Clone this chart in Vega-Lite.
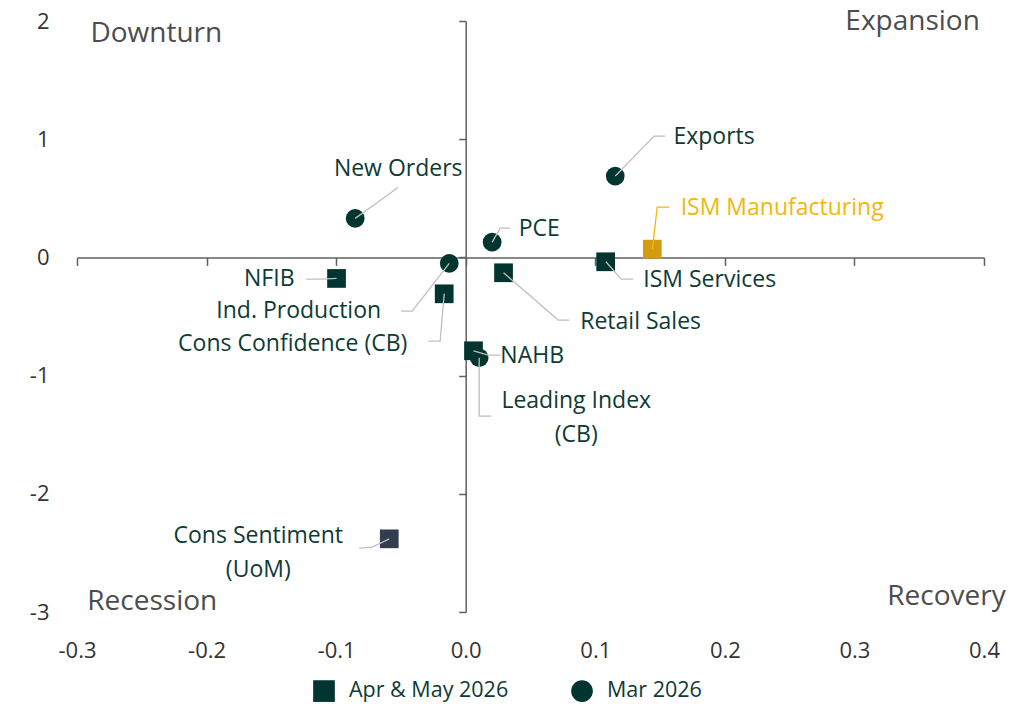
{
  "$schema": "https://vega.github.io/schema/vega-lite/v6.json",
  "width": 907,
  "height": 591,
  "autosize": "none",
  "padding": {"left": 77, "top": 21, "right": 52, "bottom": 92},
  "background": "white",
  "config": {"view": {"stroke": null}, "font": "Open Sans"},
  "datasets": {
    "quadrants": [
      {"label": "Downturn", "x": -0.2388, "y": 1.889},
      {"label": "Expansion", "x": 0.3449, "y": 1.99},
      {"label": "Recession", "x": -0.2419, "y": -2.916},
      {"label": "Recovery", "x": 0.3711, "y": -2.874}
    ],
    "points": [
      {"name": "ISM Manufacturing", "period": "Apr & May 2026", "x": 0.144, "y": 0.07},
      {"name": "ISM Services", "period": "Apr & May 2026", "x": 0.108, "y": -0.037},
      {"name": "NFIB", "period": "Apr & May 2026", "x": -0.0997, "y": -0.178},
      {"name": "Cons Confidence (CB)", "period": "Apr & May 2026", "x": -0.0166, "y": -0.308},
      {"name": "Retail Sales", "period": "Apr & May 2026", "x": 0.0292, "y": -0.13},
      {"name": "NAHB", "period": "Apr & May 2026", "x": 0.006, "y": -0.79},
      {"name": "Cons Sentiment (UoM)", "period": "Apr & May 2026", "x": -0.059, "y": -2.381},
      {"name": "Exports", "period": "Mar 2026", "x": 0.1154, "y": 0.688},
      {"name": "New Orders", "period": "Mar 2026", "x": -0.0853, "y": 0.33},
      {"name": "PCE", "period": "Mar 2026", "x": 0.0204, "y": 0.129},
      {"name": "Ind. Production", "period": "Mar 2026", "x": -0.0127, "y": -0.051},
      {"name": "Leading Index (CB)", "period": "Mar 2026", "x": 0.0104, "y": -0.849}
    ],
    "leaders": [
      {"name": "Exports", "i": 0, "x": 0.1154, "y": 0.688},
      {"name": "Exports", "i": 1, "x": 0.1454, "y": 1.026},
      {"name": "Exports", "i": 2, "x": 0.1539, "y": 1.026},
      {"name": "PCE", "i": 0, "x": 0.0204, "y": 0.129},
      {"name": "PCE", "i": 1, "x": 0.0266, "y": 0.248},
      {"name": "PCE", "i": 2, "x": 0.0343, "y": 0.248},
      {"name": "ISM Manufacturing", "i": 0, "x": 0.1441, "y": 0.07},
      {"name": "ISM Manufacturing", "i": 1, "x": 0.1478, "y": 0.426},
      {"name": "ISM Manufacturing", "i": 2, "x": 0.1571, "y": 0.426},
      {"name": "ISM Services", "i": 0, "x": 0.1082, "y": -0.037},
      {"name": "ISM Services", "i": 1, "x": 0.12, "y": -0.184},
      {"name": "ISM Services", "i": 2, "x": 0.1292, "y": -0.184},
      {"name": "NFIB", "i": 0, "x": -0.0997, "y": -0.178},
      {"name": "NFIB", "i": 1, "x": -0.1123, "y": -0.184},
      {"name": "NFIB", "i": 2, "x": -0.1231, "y": -0.184},
      {"name": "Ind. Production", "i": 0, "x": -0.0127, "y": -0.051},
      {"name": "Ind. Production", "i": 1, "x": -0.0413, "y": -0.454},
      {"name": "Ind. Production", "i": 2, "x": -0.0498, "y": -0.454},
      {"name": "Cons Confidence (CB)", "i": 0, "x": -0.0166, "y": -0.308},
      {"name": "Cons Confidence (CB)", "i": 1, "x": -0.0197, "y": -0.708},
      {"name": "Cons Confidence (CB)", "i": 2, "x": -0.0289, "y": -0.708},
      {"name": "NAHB", "i": 0, "x": 0.006, "y": -0.79},
      {"name": "NAHB", "i": 1, "x": 0.0174, "y": -0.827},
      {"name": "NAHB", "i": 2, "x": 0.0274, "y": -0.827},
      {"name": "Leading Index (CB)", "i": 0, "x": 0.0104, "y": -0.849},
      {"name": "Leading Index (CB)", "i": 1, "x": 0.0104, "y": -1.343},
      {"name": "Leading Index (CB)", "i": 2, "x": 0.0197, "y": -1.343},
      {"name": "Cons Sentiment (UoM)", "i": 0, "x": -0.059, "y": -2.381},
      {"name": "Cons Sentiment (UoM)", "i": 1, "x": -0.0721, "y": -2.451},
      {"name": "Cons Sentiment (UoM)", "i": 2, "x": -0.0822, "y": -2.459},
      {"name": "New Orders", "i": 0, "x": -0.0853, "y": 0.33},
      {"name": "New Orders", "i": 1, "x": -0.0687, "y": 0.461},
      {"name": "New Orders", "i": 2, "x": -0.0521, "y": 0.593},
      {"name": "Retail Sales", "i": 0, "x": 0.0292, "y": -0.13},
      {"name": "Retail Sales", "i": 1, "x": 0.0714, "y": -0.53},
      {"name": "Retail Sales", "i": 2, "x": 0.0799, "y": -0.53}
    ],
    "labels": [
      {"name": "Exports", "text": "Exports", "x": 0.1917, "y": 1.018},
      {"name": "New Orders", "text": "New Orders", "x": -0.0521, "y": 0.747},
      {"name": "PCE", "text": "PCE", "x": 0.0567, "y": 0.239},
      {"name": "ISM Manufacturing", "text": "ISM Manufacturing", "x": 0.2442, "y": 0.417},
      {"name": "NFIB", "text": "NFIB", "x": -0.1516, "y": -0.184},
      {"name": "Ind. Production", "text": "Ind. Production", "x": -0.1289, "y": -0.454},
      {"name": "Cons Confidence (CB)", "text": "Cons Confidence (CB)", "x": -0.1335, "y": -0.734},
      {"name": "ISM Services", "text": "ISM Services", "x": 0.1883, "y": -0.192},
      {"name": "Retail Sales", "text": "Retail Sales", "x": 0.135, "y": -0.547},
      {"name": "NAHB", "text": "NAHB", "x": 0.0513, "y": -0.835},
      {"name": "Leading Index (CB)", "text": "Leading Index\n(CB)", "x": 0.0853, "y": -1.216},
      {"name": "Cons Sentiment (UoM)", "text": "Cons Sentiment\n(UoM)", "x": -0.1601, "y": -2.358}
    ]
  },
  "layer": [
    {
      "data": {"name": "quadrants"},
      "mark": {"type": "text", "fontSize": 28, "color": "#4d4d4d", "align": "center", "baseline": "middle"},
      "encoding": {
        "x": {"field": "x", "type": "quantitative",
          "scale": {"domain": [-0.3, 0.4], "nice": false, "zero": false},
          "axis": {"values": [-0.3, -0.2, -0.1, 0, 0.1, 0.2, 0.3, 0.4], "format": ".1f", "labelExpr": "replace(datum.label, '−', '-')", "domain": false, "ticks": false, "grid": false, "labelPadding": 28, "labelFontSize": 22, "labelColor": "#333333", "title": null, "labelFlush": false}},
        "y": {"field": "y", "type": "quantitative",
          "scale": {"domain": [-3, 2], "nice": false, "zero": false},
          "axis": {"values": [-3, -2, -1, 0, 1, 2], "format": "d", "labelExpr": "replace(datum.label, '−', '-')", "domain": false, "ticks": false, "grid": false, "labelPadding": 28, "labelFontSize": 22, "labelColor": "#333333", "title": null, "labelFlush": false}},
        "text": {"field": "label"}
      }
    },
    {
      "data": {"name": "points"},
      "mark": {"type": "point", "filled": true, "opacity": 1, "size": 350, "strokeWidth": 0},
      "encoding": {
        "x": {"field": "x", "type": "quantitative",
          "scale": {"domain": [-0.3, 0.4], "nice": false, "zero": false},
          "axis": {"orient": "bottom", "offset": -354.6, "values": [-0.3, -0.2, -0.1, 0, 0.1, 0.2, 0.3, 0.4], "labels": false, "ticks": true, "tickSize": 8, "domain": true, "domainColor": "#606060", "tickColor": "#606060", "domainWidth": 1.5, "tickWidth": 1.5, "grid": false, "title": null}},
        "y": {"field": "y", "type": "quantitative",
          "scale": {"domain": [-3, 2], "nice": false, "zero": false},
          "axis": {"orient": "left", "offset": -388.7, "values": [-3, -2, -1, 0, 1, 2], "labels": false, "ticks": true, "tickSize": 7, "domain": true, "domainColor": "#606060", "tickColor": "#606060", "domainWidth": 1.5, "tickWidth": 1.5, "grid": false, "title": null}},
        "shape": {"field": "period", "type": "nominal",
          "scale": {"domain": ["Apr & May 2026", "Mar 2026"], "range": ["square", "circle"]},
          "legend": {"orient": "none", "legendX": 236, "legendY": 659, "direction": "horizontal", "title": null, "symbolSize": 470, "symbolFillColor": "#023430", "symbolStrokeWidth": 0, "symbolOpacity": 1, "labelFontSize": 21.5, "labelColor": "#0e3b35", "labelOffset": 14, "columnPadding": 62}},
        "color": {"field": "name", "type": "nominal", "legend": null,
          "scale": {
            "domain": ["ISM Manufacturing", "ISM Services", "NFIB", "Cons Confidence (CB)", "Retail Sales", "NAHB", "Cons Sentiment (UoM)", "Exports", "New Orders", "PCE", "Ind. Production", "Leading Index (CB)"],
            "range": ["#d49c0e", "#023430", "#023430", "#023430", "#023430", "#023430", "#323d4f", "#023430", "#023430", "#023430", "#023430", "#023430"]}}
      }
    },
    {
      "data": {"name": "leaders"},
      "mark": {"type": "line", "strokeWidth": 1.3},
      "encoding": {
        "x": {"field": "x", "type": "quantitative", "axis": null},
        "y": {"field": "y", "type": "quantitative", "axis": null},
        "detail": {"field": "name"},
        "order": {"field": "i", "type": "quantitative"},
        "color": {"field": "name", "type": "nominal", "legend": null,
          "scale": {
            "domain": ["ISM Manufacturing", "ISM Services", "NFIB", "Cons Confidence (CB)", "Retail Sales", "NAHB", "Cons Sentiment (UoM)", "Exports", "New Orders", "PCE", "Ind. Production", "Leading Index (CB)"],
            "range": ["#f3b70a", "#bfbfbf", "#bfbfbf", "#bfbfbf", "#bfbfbf", "#bfbfbf", "#bfbfbf", "#bfbfbf", "#bfbfbf", "#bfbfbf", "#bfbfbf", "#bfbfbf"]}}
      }
    },
    {
      "data": {"name": "labels"},
      "mark": {"type": "text", "fontSize": 23, "align": "center", "baseline": "middle", "lineBreak": "\n", "lineHeight": 34},
      "encoding": {
        "x": {"field": "x", "type": "quantitative", "axis": null},
        "y": {"field": "y", "type": "quantitative", "axis": null},
        "text": {"field": "text"},
        "color": {"field": "name", "type": "nominal", "legend": null,
          "scale": {
            "domain": ["ISM Manufacturing", "ISM Services", "NFIB", "Cons Confidence (CB)", "Retail Sales", "NAHB", "Cons Sentiment (UoM)", "Exports", "New Orders", "PCE", "Ind. Production", "Leading Index (CB)"],
            "range": ["#f3b70a", "#0e3b35", "#0e3b35", "#0e3b35", "#0e3b35", "#0e3b35", "#0e3b35", "#0e3b35", "#0e3b35", "#0e3b35", "#0e3b35", "#0e3b35"]}}
      }
    }
  ],
  "resolve": {"axis": {"x": "independent", "y": "independent"}, "scale": {"color": "independent"}}
}
